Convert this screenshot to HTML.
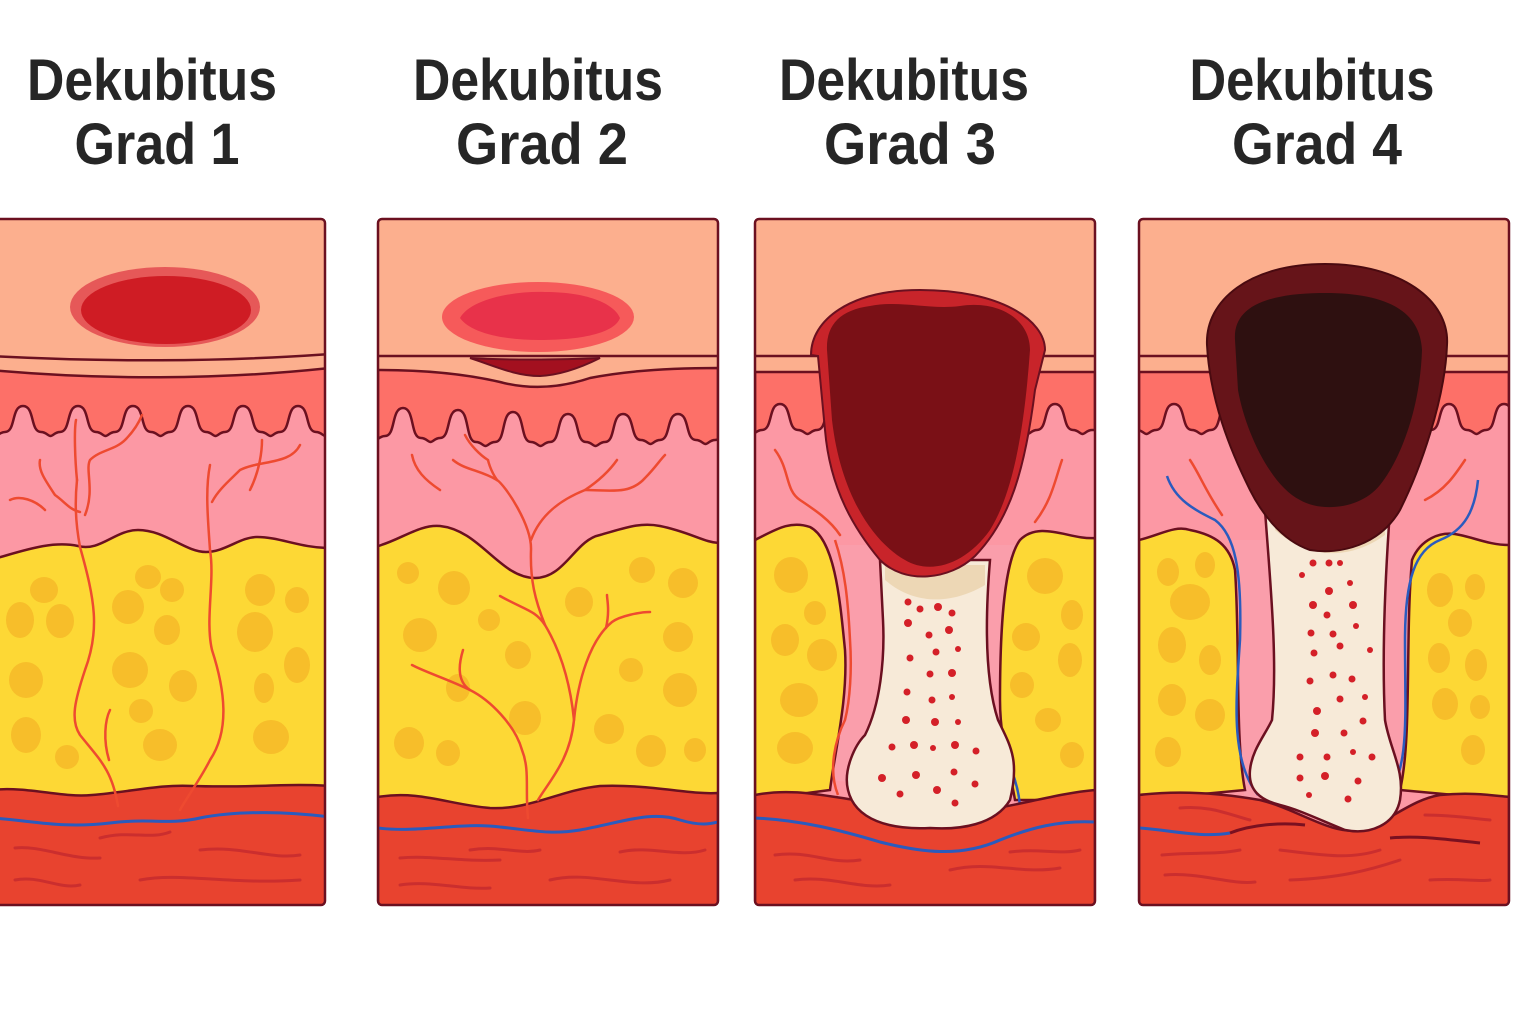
<!DOCTYPE html>
<html><head><meta charset="utf-8"><style>
html,body{margin:0;padding:0;background:#fff;width:1536px;height:1024px;overflow:hidden}
svg{display:block}
text{font-family:"Liberation Sans",sans-serif;font-weight:bold;fill:#262626}
</style></head><body>
<svg width="1536" height="1024" viewBox="0 0 1536 1024" xmlns="http://www.w3.org/2000/svg">
<defs>
<clipPath id="c1"><rect x="-10" y="219" width="335" height="686" rx="4"/></clipPath>
<clipPath id="c2"><rect x="378" y="219" width="340" height="686" rx="4"/></clipPath>
<clipPath id="c3"><rect x="755" y="219" width="340" height="686" rx="4"/></clipPath>
<clipPath id="c4"><rect x="1139" y="219" width="370" height="686" rx="4"/></clipPath>
</defs>

<g font-size="58">
<text x="152" y="100" text-anchor="middle" textLength="250" lengthAdjust="spacingAndGlyphs">Dekubitus</text>
<text x="157" y="164" text-anchor="middle" textLength="165" lengthAdjust="spacingAndGlyphs">Grad 1</text>
<text x="538" y="100" text-anchor="middle" textLength="250" lengthAdjust="spacingAndGlyphs">Dekubitus</text>
<text x="542" y="164" text-anchor="middle" textLength="172" lengthAdjust="spacingAndGlyphs">Grad 2</text>
<text x="904" y="100" text-anchor="middle" textLength="250" lengthAdjust="spacingAndGlyphs">Dekubitus</text>
<text x="910" y="164" text-anchor="middle" textLength="172" lengthAdjust="spacingAndGlyphs">Grad 3</text>
<text x="1312" y="100" text-anchor="middle" textLength="245" lengthAdjust="spacingAndGlyphs">Dekubitus</text>
<text x="1317" y="164" text-anchor="middle" textLength="170" lengthAdjust="spacingAndGlyphs">Grad 4</text>
</g>

<!-- ================= PANEL 1 ================= -->
<g clip-path="url(#c1)">
<rect x="-10" y="219" width="340" height="690" fill="#FCAF8E"/>
<path d="M-10,370 C100,380 220,380 330,368 L330,910 L-10,910Z" fill="#FD7068" stroke="#6B1020" stroke-width="2.5"/>
<path d="M-10,356 C100,362 220,362 330,354" fill="none" stroke="#6B1020" stroke-width="2.5"/>
<path d="M-50,432 c11,0 6,-26 18,-26 c12,0 7,26 18,26 c5,0 7,4 9.5,4 c2.5,0 4.5,-4 9.5,-4 c11,0 6,-26 18,-26 c12,0 7,26 18,26 c5,0 7,4 9.5,4 c2.5,0 4.5,-4 9.5,-4 c11,0 6,-26 18,-26 c12,0 7,26 18,26 c5,0 7,4 9.5,4 c2.5,0 4.5,-4 9.5,-4 c11,0 6,-26 18,-26 c12,0 7,26 18,26 c5,0 7,4 9.5,4 c2.5,0 4.5,-4 9.5,-4 c11,0 6,-26 18,-26 c12,0 7,26 18,26 c5,0 7,4 9.5,4 c2.5,0 4.5,-4 9.5,-4 c11,0 6,-26 18,-26 c12,0 7,26 18,26 c5,0 7,4 9.5,4 c2.5,0 4.5,-4 9.5,-4 c11,0 6,-26 18,-26 c12,0 7,26 18,26 c5,0 7,4 9.5,4 c2.5,0 4.5,-4 9.5,-4 c11,0 6,-26 18,-26 c12,0 7,26 18,26 c5,0 7,4 9.5,4 c2.5,0 4.5,-4 9.5,-4 L390,910 L-50,910Z" fill="#FC98A4" stroke="#6B1020" stroke-width="2.5"/>
<path d="M-10,560 C20,552 50,540 78,546 C100,552 115,530 138,530 C165,530 185,552 206,552 C225,552 240,537 257,537 C280,537 300,548 330,548 L330,910 L-10,910Z" fill="#FDD835" stroke="#6B1020" stroke-width="2.5"/>
<g fill="#F7BE2A">
<ellipse cx="44" cy="590" rx="14" ry="13"/><ellipse cx="20" cy="620" rx="14" ry="18"/><ellipse cx="60" cy="621" rx="14" ry="17"/>
<ellipse cx="148" cy="577" rx="13" ry="12"/><ellipse cx="172" cy="590" rx="12" ry="12"/><ellipse cx="128" cy="607" rx="16" ry="17"/>
<ellipse cx="167" cy="630" rx="13" ry="15"/><ellipse cx="26" cy="680" rx="17" ry="18"/><ellipse cx="130" cy="670" rx="18" ry="18"/>
<ellipse cx="183" cy="686" rx="14" ry="16"/><ellipse cx="141" cy="711" rx="12" ry="12"/><ellipse cx="26" cy="735" rx="15" ry="18"/>
<ellipse cx="67" cy="757" rx="12" ry="12"/><ellipse cx="160" cy="745" rx="17" ry="16"/><ellipse cx="260" cy="590" rx="15" ry="16"/>
<ellipse cx="297" cy="600" rx="12" ry="13"/><ellipse cx="255" cy="632" rx="18" ry="20"/><ellipse cx="297" cy="665" rx="13" ry="18"/>
<ellipse cx="264" cy="688" rx="10" ry="15"/><ellipse cx="271" cy="737" rx="18" ry="17"/>
</g>
<path d="M-10,790 C30,786 60,798 92,795 C130,792 160,784 193,786 C250,788 290,783 330,786 L330,910 L-10,910Z" fill="#E8432F" stroke="#6B1020" stroke-width="2.5"/>
<g fill="none" stroke="#C42A2E" stroke-width="3" stroke-linecap="round" opacity="0.8">
<path d="M15,848 C40,845 70,860 100,858"/><path d="M100,838 C130,830 150,840 170,832"/><path d="M140,880 C180,872 230,885 300,880"/><path d="M15,880 C40,875 60,890 80,885"/><path d="M200,850 C240,845 270,860 300,855"/>
</g>
<path d="M-10,818 C30,820 60,829 110,823 C150,818 170,825 200,818 C240,810 290,812 330,817" fill="none" stroke="#2A5BBE" stroke-width="3"/>
<g fill="none" stroke="#EE4A30" stroke-width="2.5" stroke-linecap="round">
<path d="M118,806 C112,770 100,760 80,735 C70,720 75,700 85,670 C100,630 95,600 80,547 C75,520 75,500 77,480"/>
<path d="M109,760 C103,740 105,720 110,710"/>
<path d="M77,480 C75,460 74,430 76,420"/>
<path d="M85,515 C95,490 85,470 90,460 C100,450 115,450 125,440 C135,430 140,420 142,415"/>
<path d="M180,810 C185,800 200,780 210,760 C230,730 225,690 212,650 C205,620 215,580 210,550 C208,520 205,490 210,465"/>
<path d="M212,502 C218,490 230,480 240,470 C260,460 290,465 300,445"/>
<path d="M250,490 C260,470 262,450 262,440"/>
<path d="M40,460 C38,470 45,480 55,495 C65,502 70,510 80,512"/>
<path d="M10,500 C20,495 35,500 45,510"/>
</g>
<ellipse cx="165" cy="307" rx="95" ry="40" fill="#E65858"/>
<ellipse cx="166" cy="310" rx="85" ry="34" fill="#CF1C24"/>
</g>
<rect x="-10" y="219" width="335" height="686" rx="4" fill="none" stroke="#6B1020" stroke-width="2.5"/>

<!-- ================= PANEL 2 ================= -->
<g clip-path="url(#c2)">
<rect x="378" y="219" width="340" height="690" fill="#FCAF8E"/>
<path d="M378,370 C430,370 470,375 500,382 C530,390 560,388 590,378 C630,370 680,368 718,368 L718,910 L378,910Z" fill="#FD7068" stroke="#6B1020" stroke-width="2.5"/>
<path d="M378,356 L718,356" fill="none" stroke="#6B1020" stroke-width="2.5"/>
<path d="M470,358 C500,360 560,360 600,358 C580,368 560,375 540,376 C515,376 495,366 470,358Z" fill="#A3101F" stroke="#6B1020" stroke-width="2"/>
<path d="M330,436 c11,0 6,-28 18,-28 c12,0 7,28 18,28 c5,0 7,4 9.5,4 c2.5,0 4.5,-4 9.5,-4 c11,0 6,-28 18,-28 c12,0 7,30 18,30 c5,0 7,4 9.5,4 c2.5,0 4.5,-4 9.5,-4 c11,0 6,-28 18,-28 c12,0 7,32 18,32 c5,0 7,4 9.5,4 c2.5,0 4.5,-4 9.5,-4 c11,0 6,-30 18,-30 c12,0 7,30 18,30 c5,0 7,4 9.5,4 c2.5,0 4.5,-4 9.5,-4 c11,0 6,-28 18,-28 c12,0 7,28 18,28 c5,0 7,4 9.5,4 c2.5,0 4.5,-4 9.5,-4 c11,0 6,-28 18,-28 c12,0 7,26 18,26 c5,0 7,4 9.5,4 c2.5,0 4.5,-4 9.5,-4 c11,0 6,-26 18,-26 c12,0 7,26 18,26 c5,0 7,4 9.5,4 c2.5,0 4.5,-4 9.5,-4 c11,0 6,-26 18,-26 c12,0 7,26 18,26 c5,0 7,4 9.5,4 c2.5,0 4.5,-4 9.5,-4 L770,910 L330,910Z" fill="#FC98A4" stroke="#6B1020" stroke-width="2.5"/>
<path d="M378,546 C400,540 420,524 440,526 C480,530 500,578 535,578 C565,578 575,540 600,535 C625,528 640,522 660,526 C690,532 705,543 720,543 L720,910 L378,910Z" fill="#FDD835" stroke="#6B1020" stroke-width="2.5"/>
<g fill="#F7BE2A">
<ellipse cx="408" cy="573" rx="11" ry="11"/><ellipse cx="454" cy="588" rx="16" ry="17"/><ellipse cx="420" cy="635" rx="17" ry="17"/>
<ellipse cx="489" cy="620" rx="11" ry="11"/><ellipse cx="458" cy="688" rx="12" ry="14"/><ellipse cx="518" cy="655" rx="13" ry="14"/>
<ellipse cx="525" cy="718" rx="16" ry="17"/><ellipse cx="409" cy="743" rx="15" ry="16"/><ellipse cx="448" cy="753" rx="12" ry="13"/>
<ellipse cx="579" cy="602" rx="14" ry="15"/><ellipse cx="642" cy="570" rx="13" ry="13"/><ellipse cx="683" cy="583" rx="15" ry="15"/>
<ellipse cx="678" cy="637" rx="15" ry="15"/><ellipse cx="631" cy="670" rx="12" ry="12"/><ellipse cx="680" cy="690" rx="17" ry="17"/>
<ellipse cx="609" cy="729" rx="15" ry="15"/><ellipse cx="651" cy="751" rx="15" ry="16"/><ellipse cx="695" cy="750" rx="11" ry="12"/>
</g>
<path d="M378,797 C420,790 450,805 490,808 C530,810 560,790 600,786 C650,784 690,795 718,793 L718,910 L378,910Z" fill="#E8432F" stroke="#6B1020" stroke-width="2.5"/>
<g fill="none" stroke="#C42A2E" stroke-width="3" stroke-linecap="round" opacity="0.8">
<path d="M400,858 C430,855 460,862 500,860"/><path d="M470,850 C500,845 520,855 540,850"/><path d="M620,852 C650,845 680,858 705,850"/><path d="M400,885 C430,880 460,890 490,888"/><path d="M550,880 C590,870 630,890 670,880"/>
</g>
<path d="M378,828 C420,833 460,822 500,827 C530,830 550,835 580,830 C620,823 650,810 680,820 C700,826 710,824 718,822" fill="none" stroke="#2A5BBE" stroke-width="3"/>
<g fill="none" stroke="#EE4A30" stroke-width="2.5" stroke-linecap="round">
<path d="M528,818 C525,790 530,770 522,750 C515,725 490,700 470,690 C455,680 460,660 463,650"/>
<path d="M470,690 C450,680 425,672 412,665"/>
<path d="M538,800 C550,780 570,760 574,720 C578,680 590,640 612,622 C620,616 640,612 650,612"/>
<path d="M606,628 C610,610 607,600 607,595"/>
<path d="M574,720 C570,680 560,650 545,625 C535,610 525,610 500,596"/>
<path d="M545,625 C535,600 530,580 531,550 C532,525 505,485 497,480"/>
<path d="M497,480 C480,470 465,470 453,460"/>
<path d="M497,480 C490,470 488,460 488,460 C480,455 470,445 465,435"/>
<path d="M531,540 C540,515 560,500 585,490 C600,480 610,470 617,460"/>
<path d="M585,490 C610,490 630,495 645,478 C655,468 660,460 665,455"/>
<path d="M412,455 C415,470 425,480 440,490"/>
</g>
<ellipse cx="538" cy="317" rx="96" ry="35" fill="#F65A5A"/>
<path d="M460,318 C470,300 510,291 545,292 C590,292 615,305 620,318 C615,332 585,340 540,340 C500,340 470,332 460,318Z" fill="#E8324A"/>
</g>
<rect x="378" y="219" width="340" height="686" rx="4" fill="none" stroke="#6B1020" stroke-width="2.5"/>

<!-- ================= PANEL 3 ================= -->
<g clip-path="url(#c3)">
<rect x="755" y="219" width="340" height="690" fill="#FCAF8E"/>
<path d="M755,372 L1095,372 L1095,910 L755,910Z" fill="#FD7068" stroke="#6B1020" stroke-width="2.5"/>
<path d="M755,356 L1095,356" stroke="#6B1020" stroke-width="2.5"/>
<path d="M707,430 c11,0 6,-26 18,-26 c12,0 7,26 18,26 c5,0 7,4 9.5,4 c2.5,0 4.5,-4 9.5,-4 c11,0 6,-26 18,-26 c12,0 7,26 18,26 c5,0 7,4 9.5,4 c2.5,0 4.5,-4 9.5,-4 c11,0 6,-26 18,-26 c12,0 7,26 18,26 c5,0 7,4 9.5,4 c2.5,0 4.5,-4 9.5,-4 c11,0 6,-26 18,-26 c12,0 7,26 18,26 c5,0 7,4 9.5,4 c2.5,0 4.5,-4 9.5,-4 c11,0 6,-26 18,-26 c12,0 7,26 18,26 c5,0 7,4 9.5,4 c2.5,0 4.5,-4 9.5,-4 c11,0 6,-26 18,-26 c12,0 7,26 18,26 c5,0 7,4 9.5,4 c2.5,0 4.5,-4 9.5,-4 c11,0 6,-26 18,-26 c12,0 7,26 18,26 c5,0 7,4 9.5,4 c2.5,0 4.5,-4 9.5,-4 L1120,430 L1120,910 L707,910Z" fill="#FC98A4" stroke="#6B1020" stroke-width="2.5"/>
<path d="M835,545 C845,580 850,610 850,650 C850,700 840,740 830,780 L1015,800 C1010,760 1000,720 1000,680 C1000,620 1008,580 1020,545 Z" fill="#FA9EAB"/>
<path d="M755,540 C775,530 790,520 810,527 C835,540 840,600 845,650 C848,700 835,750 830,790 L755,800Z" fill="#FDD835" stroke="#6B1020" stroke-width="2.5"/>
<path d="M1095,538 C1070,540 1040,520 1020,540 C1005,560 1000,620 1000,700 C1000,740 1010,770 1015,800 L1095,800Z" fill="#FDD835" stroke="#6B1020" stroke-width="2.5"/>
<g fill="#F7BE2A">
<ellipse cx="791" cy="575" rx="17" ry="18"/><ellipse cx="815" cy="613" rx="11" ry="12"/><ellipse cx="785" cy="640" rx="14" ry="16"/>
<ellipse cx="822" cy="655" rx="15" ry="16"/><ellipse cx="799" cy="700" rx="19" ry="17"/><ellipse cx="795" cy="748" rx="18" ry="16"/>
<ellipse cx="1045" cy="576" rx="18" ry="18"/><ellipse cx="1072" cy="615" rx="11" ry="15"/><ellipse cx="1026" cy="637" rx="14" ry="14"/>
<ellipse cx="1070" cy="660" rx="12" ry="17"/><ellipse cx="1022" cy="685" rx="12" ry="13"/><ellipse cx="1048" cy="720" rx="13" ry="12"/>
<ellipse cx="1072" cy="755" rx="12" ry="13"/>
</g>
<path d="M1000,740 C1012,770 1020,790 1020,810" fill="none" stroke="#2A5BBE" stroke-width="2.5"/>
<path d="M755,795 C790,788 820,795 855,800 C900,808 940,815 975,812 C1020,805 1060,793 1095,790 L1095,910 L755,910Z" fill="#E8432F" stroke="#6B1020" stroke-width="2.5"/>
<g fill="none" stroke="#C42A2E" stroke-width="3" stroke-linecap="round" opacity="0.8">
<path d="M775,855 C810,850 830,865 860,860"/><path d="M795,880 C830,875 860,890 890,885"/><path d="M950,870 C990,860 1020,875 1060,868"/><path d="M1010,852 C1040,848 1060,855 1080,850"/>
</g>
<path d="M755,818 C800,820 840,830 880,842 C920,852 960,858 1000,840 C1030,828 1060,820 1095,822" fill="none" stroke="#2A5BBE" stroke-width="3"/>
<path d="M838,795 C828,770 835,740 845,720 C850,700 852,670 850,640 C848,600 845,570 835,540" fill="none" stroke="#EE4A30" stroke-width="2.5"/>
<path d="M880,560 L990,560 C985,620 985,680 998,720 C1010,745 1020,760 1010,800 C995,825 960,830 930,828 C890,830 855,820 848,790 C843,770 855,745 865,735 C880,705 885,660 883,620 Z" fill="#F7EAD8" stroke="#6B1020" stroke-width="2.5"/>
<path d="M885,580 C920,610 960,600 985,585 L985,565 L885,565Z" fill="#E8CFA6" opacity="0.7"/>
<g fill="#D42028">
<circle cx="908" cy="602" r="3.5"/><circle cx="920" cy="609" r="3.5"/><circle cx="938" cy="607" r="4"/><circle cx="952" cy="613" r="3.5"/>
<circle cx="908" cy="623" r="4"/><circle cx="929" cy="635" r="3.5"/><circle cx="949" cy="630" r="4"/><circle cx="958" cy="649" r="3"/>
<circle cx="910" cy="658" r="3.5"/><circle cx="936" cy="652" r="3.5"/><circle cx="930" cy="674" r="3.5"/><circle cx="952" cy="673" r="4"/>
<circle cx="907" cy="692" r="3.5"/><circle cx="932" cy="700" r="3.5"/><circle cx="952" cy="697" r="3"/><circle cx="906" cy="720" r="4"/>
<circle cx="935" cy="722" r="4"/><circle cx="958" cy="722" r="3"/><circle cx="892" cy="747" r="3.5"/><circle cx="914" cy="745" r="4"/>
<circle cx="933" cy="748" r="3"/><circle cx="955" cy="745" r="4"/><circle cx="976" cy="751" r="3.5"/><circle cx="882" cy="778" r="4"/>
<circle cx="916" cy="775" r="4"/><circle cx="954" cy="772" r="3.5"/><circle cx="975" cy="784" r="3.5"/><circle cx="900" cy="794" r="3.5"/>
<circle cx="937" cy="790" r="4"/><circle cx="955" cy="803" r="3.5"/>
</g>
<path d="M775,450 C790,470 785,490 800,500 C815,510 830,520 840,535" fill="none" stroke="#EE4A30" stroke-width="2.5" stroke-linecap="round"/>
<path d="M1062,460 C1055,480 1052,500 1035,522" fill="none" stroke="#EE4A30" stroke-width="2.5" stroke-linecap="round"/>
<path d="M811,355 C811,320 850,290 920,290 C1000,290 1045,320 1045,350 L1035,390 C1025,470 1010,520 975,556 C950,580 905,585 880,560 C855,530 830,490 825,430 L818,356 Z" fill="#C8242A" stroke="#6B1020" stroke-width="2"/>
<path d="M827,350 C826,325 840,310 870,306 C900,300 930,310 960,306 C1000,300 1030,320 1030,350 C1025,420 1015,490 990,530 C965,565 930,575 905,560 C870,540 840,490 832,420 Z" fill="#7A1016"/>
</g>
<rect x="755" y="219" width="340" height="686" rx="4" fill="none" stroke="#6B1020" stroke-width="2.5"/>

<!-- ================= PANEL 4 ================= -->
<g clip-path="url(#c4)">
<rect x="1139" y="219" width="370" height="690" fill="#FCAF8E"/>
<path d="M1139,372 L1509,372 L1509,910 L1139,910Z" fill="#FD7068" stroke="#6B1020" stroke-width="2.5"/>
<path d="M1139,356 L1509,356" stroke="#6B1020" stroke-width="2.5"/>
<path d="M1101,430 c11,0 6,-26 18,-26 c12,0 7,26 18,26 c5,0 7,4 9.5,4 c2.5,0 4.5,-4 9.5,-4 c11,0 6,-26 18,-26 c12,0 7,26 18,26 c5,0 7,4 9.5,4 c2.5,0 4.5,-4 9.5,-4 c11,0 6,-26 18,-26 c12,0 7,26 18,26 c5,0 7,4 9.5,4 c2.5,0 4.5,-4 9.5,-4 c11,0 6,-26 18,-26 c12,0 7,26 18,26 c5,0 7,4 9.5,4 c2.5,0 4.5,-4 9.5,-4 c11,0 6,-26 18,-26 c12,0 7,26 18,26 c5,0 7,4 9.5,4 c2.5,0 4.5,-4 9.5,-4 c11,0 6,-26 18,-26 c12,0 7,26 18,26 c5,0 7,4 9.5,4 c2.5,0 4.5,-4 9.5,-4 c11,0 6,-26 18,-26 c12,0 7,26 18,26 c5,0 7,4 9.5,4 c2.5,0 4.5,-4 9.5,-4 c11,0 6,-26 18,-26 c12,0 7,26 18,26 c5,0 7,4 9.5,4 c2.5,0 4.5,-4 9.5,-4 L1540,430 L1540,910 L1101,910Z" fill="#FC98A4" stroke="#6B1020" stroke-width="2.5"/>
<path d="M1232,540 C1240,570 1240,620 1240,640 C1238,700 1235,750 1245,800 L1400,800 C1410,760 1415,700 1410,640 C1408,590 1410,565 1418,540 Z" fill="#FA9EAB"/>
<path d="M1139,540 C1160,535 1175,525 1190,530 C1215,535 1230,545 1235,570 C1240,640 1235,740 1245,790 L1139,800Z" fill="#FDD835" stroke="#6B1020" stroke-width="2.5"/>
<path d="M1509,545 C1490,545 1475,538 1460,535 C1440,530 1420,540 1412,560 C1405,640 1412,740 1400,790 L1509,800Z" fill="#FDD835" stroke="#6B1020" stroke-width="2.5"/>
<g fill="#F7BE2A">
<ellipse cx="1168" cy="572" rx="11" ry="14"/><ellipse cx="1205" cy="565" rx="10" ry="13"/><ellipse cx="1190" cy="602" rx="20" ry="18"/>
<ellipse cx="1172" cy="645" rx="14" ry="18"/><ellipse cx="1210" cy="660" rx="11" ry="15"/><ellipse cx="1172" cy="700" rx="14" ry="16"/>
<ellipse cx="1210" cy="715" rx="15" ry="16"/><ellipse cx="1168" cy="752" rx="13" ry="15"/>
<ellipse cx="1440" cy="590" rx="13" ry="17"/><ellipse cx="1475" cy="587" rx="10" ry="13"/><ellipse cx="1460" cy="623" rx="12" ry="14"/>
<ellipse cx="1439" cy="658" rx="11" ry="15"/><ellipse cx="1476" cy="665" rx="11" ry="16"/><ellipse cx="1445" cy="704" rx="13" ry="16"/>
<ellipse cx="1480" cy="707" rx="10" ry="12"/><ellipse cx="1473" cy="750" rx="12" ry="15"/>
</g>
<path d="M1167,476 C1175,500 1195,510 1215,520 C1235,535 1242,570 1240,640 C1236,700 1230,760 1258,795" fill="none" stroke="#2A5BBE" stroke-width="2.5"/>
<path d="M1478,480 C1475,510 1465,530 1440,540 C1415,550 1405,580 1405,640 C1405,720 1410,770 1385,800" fill="none" stroke="#2A5BBE" stroke-width="2.5"/>
<path d="M1190,460 C1200,475 1205,490 1222,515" fill="none" stroke="#EE4A30" stroke-width="2.5" stroke-linecap="round"/>
<path d="M1465,460 C1455,475 1445,490 1425,500" fill="none" stroke="#EE4A30" stroke-width="2.5" stroke-linecap="round"/>
<path d="M1139,795 C1180,790 1220,793 1260,800 C1300,810 1330,835 1360,830 C1390,822 1410,800 1440,795 C1470,792 1490,795 1509,797 L1509,910 L1139,910Z" fill="#E8432F" stroke="#6B1020" stroke-width="2.5"/>
<g fill="none" stroke="#C42A2E" stroke-width="3" stroke-linecap="round" opacity="0.8">
<path d="M1180,808 C1210,805 1230,815 1250,820"/><path d="M1162,855 C1190,852 1215,855 1240,850"/><path d="M1165,875 C1200,872 1230,885 1255,882"/>
<path d="M1280,850 C1320,855 1350,860 1380,850"/><path d="M1290,880 C1340,878 1370,870 1400,860"/><path d="M1425,815 C1450,815 1470,818 1490,820"/><path d="M1430,880 C1460,878 1480,882 1490,880"/>
</g>
<path d="M1139,828 C1170,830 1200,838 1230,833" fill="none" stroke="#2A5BBE" stroke-width="3"/>
<path d="M1230,833 C1250,825 1280,822 1305,825" fill="none" stroke="#7A1020" stroke-width="3"/>
<path d="M1390,838 C1420,835 1450,840 1480,843" fill="none" stroke="#7A1020" stroke-width="3"/>
<path d="M1265,510 L1390,510 C1385,580 1382,660 1385,720 C1390,750 1405,770 1400,800 C1395,825 1370,835 1345,830 C1320,820 1300,810 1280,805 C1260,800 1248,790 1250,770 C1252,750 1265,735 1272,720 C1278,660 1270,580 1265,510 Z" fill="#F7EAD8" stroke="#6B1020" stroke-width="2.5"/>
<path d="M1275,530 C1310,560 1350,560 1385,535 L1385,515 L1275,515Z" fill="#E8CFA6" opacity="0.7"/>
<g fill="#D42028">
<circle cx="1299" cy="538" r="3"/><circle cx="1313" cy="563" r="3.5"/><circle cx="1329" cy="563" r="3.5"/><circle cx="1340" cy="563" r="3"/>
<circle cx="1302" cy="575" r="3"/><circle cx="1329" cy="591" r="4"/><circle cx="1350" cy="583" r="3"/><circle cx="1313" cy="605" r="4"/>
<circle cx="1327" cy="615" r="3.5"/><circle cx="1353" cy="605" r="4"/><circle cx="1311" cy="633" r="3.5"/><circle cx="1333" cy="634" r="3.5"/>
<circle cx="1356" cy="626" r="3"/><circle cx="1314" cy="653" r="3.5"/><circle cx="1340" cy="646" r="3.5"/><circle cx="1370" cy="650" r="3"/>
<circle cx="1310" cy="681" r="3.5"/><circle cx="1333" cy="675" r="3.5"/><circle cx="1352" cy="679" r="3.5"/><circle cx="1317" cy="711" r="4"/>
<circle cx="1340" cy="699" r="3.5"/><circle cx="1365" cy="697" r="3"/><circle cx="1315" cy="733" r="4"/><circle cx="1344" cy="733" r="3.5"/>
<circle cx="1363" cy="721" r="3.5"/><circle cx="1300" cy="757" r="3.5"/><circle cx="1327" cy="757" r="3.5"/><circle cx="1353" cy="752" r="3"/>
<circle cx="1372" cy="757" r="3.5"/><circle cx="1300" cy="778" r="3.5"/><circle cx="1325" cy="776" r="4"/><circle cx="1358" cy="781" r="3.5"/>
<circle cx="1309" cy="795" r="3"/><circle cx="1348" cy="799" r="3.5"/>
</g>
<path d="M1207,345 C1205,300 1250,264 1325,264 C1400,264 1450,300 1447,345 C1445,400 1420,470 1400,510 C1380,545 1340,555 1310,550 C1280,540 1260,510 1250,490 C1230,450 1210,400 1207,345 Z" fill="#661419" stroke="#4A0A10" stroke-width="2"/>
<path d="M1235,340 C1233,310 1260,294 1320,293 C1385,292 1420,310 1422,350 C1420,410 1400,460 1380,485 C1360,510 1320,512 1300,500 C1270,485 1245,430 1238,390 Z" fill="#2E1010"/>
</g>
<rect x="1139" y="219" width="370" height="686" rx="4" fill="none" stroke="#6B1020" stroke-width="2.5"/>
</svg>
</body></html>
